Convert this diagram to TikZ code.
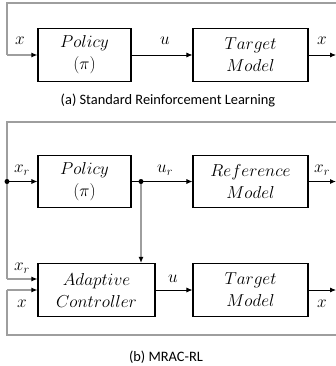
\documentclass[tikz,border=0pt]{standalone}
\usepackage{fontspec}
\newfontfamily\capfont{Carlito}
\usetikzlibrary{arrows.meta}

\tikzset{
  block/.style={draw, line width=1.1pt, minimum height=53pt, inner sep=0pt, align=center, font=\fontsize{17}{22}\selectfont},
  sig/.style={font=\fontsize{17}{20}\selectfont, inner sep=0pt},
  flow/.style={line width=0.8pt, -{Latex[length=6pt,width=5pt]}},
  loop/.style={line width=1.1pt, draw=black!38},
  loopin/.style={loop, -{Latex[length=6pt,width=5pt,color=black]}},
  caption/.style={font=\capfont\fontsize{14.4}{17}\selectfont}
}

\begin{document}
\begin{tikzpicture}[x=1pt, y=-1pt]
\useasboundingbox (0,0) rectangle (336,366);

% (a) plain RL loop
\node[block, minimum width=93pt] (pol1) at (84.5,55) {$Policy$\\$(\pi)$};
\node[block, minimum width=115pt] (tgt1) at (250.5,55) {$Target$\\$Model$};
\coordinate (out1) at (336,55);
\coordinate (fbR1) at (336,3); %top of feedback
\coordinate (fbL1) at (7,3);
\draw[flow] (pol1) -- (tgt1);
\draw[flow] (tgt1) -- (out1);
\draw[loop] (fbR1) -- (fbL1) -- (fbL1 |- pol1.west);
\draw[loopin] (fbL1 |- pol1.west) -- (pol1.west);
\node[sig] (x1) at (20,41) {$x$};
\node[sig] (u1) at (165,41) {$u$};
\node[sig] (xo1) at (322,41) {$x$};
\node[caption] (capA) at (168,100) {(a) Standard Reinforcement Learning};

% (b) MRAC-RL
\node[block, minimum width=93pt, minimum height=52pt] (pol2) at (84.5,181.5) {$Policy$\\$(\pi)$};
\node[block, minimum width=115pt, minimum height=52pt] (ref2) at (250.5,181.5) {$Reference$\\$Model$};
\node[block, minimum width=117pt] (ada) at (96.5,290) {$Adaptive$\\$Controller$};
\node[block, minimum width=115pt] (tgt2) at (250.5,290) {$Target$\\$Model$};

\coordinate (fbR2) at (336,122); %reference output fed back
\coordinate (fbL2) at (7,122);
\coordinate (splitL) at (7,181.5);
\coordinate (splitM) at (141,181.5);
\coordinate (adaXr) at ([yshift=11pt]ada.west);
\coordinate (out2) at (336,181.5);
\coordinate (out3) at (336,290);
\coordinate (fbR3) at (336,335); %plant output fed back
\coordinate (fbL3) at (7,335);

\draw[loop] (fbR2) -- (fbL2) -- (fbL2 |- adaXr);
\draw[loopin] (fbL2 |- adaXr) -- (adaXr);
\draw[flow] (splitL) -- (pol2.west);
\draw[line width=0.8pt] (pol2.east) -- (splitM);
\draw[flow] (splitM) -- (ref2.west);
\draw[flow, line width=1.1pt] (ref2.east) -- (out2);
\draw[loopin] (splitM) -- (splitM |- ada.north);
\draw[flow] (ada) -- (tgt2);
\draw[flow] (tgt2) -- (out3);
\draw[loop] (fbR3) -- (fbL3) -- (fbL3 |- ada.west);
\draw[loopin] (fbL3 |- ada.west) -- (ada.west);
\fill (splitL) circle (2.5pt);
\fill (splitM) circle (2.5pt);

\node[sig] (xr2) at (22,170) {$x_r$};
\node[sig] (ur2) at (165,170) {$u_r$};
\node[sig] (xro2) at (322,170) {$x_r$};
\node[sig] (xr3) at (22,268) {$x_r$};
\node[sig] (x3) at (22,304) {$x$};
\node[sig] (u3) at (173,279) {$u$};
\node[sig] (xo3) at (322,304) {$x$};
\node[caption] (capB) at (166,357) {(b) MRAC-RL};
\end{tikzpicture}
\end{document}
